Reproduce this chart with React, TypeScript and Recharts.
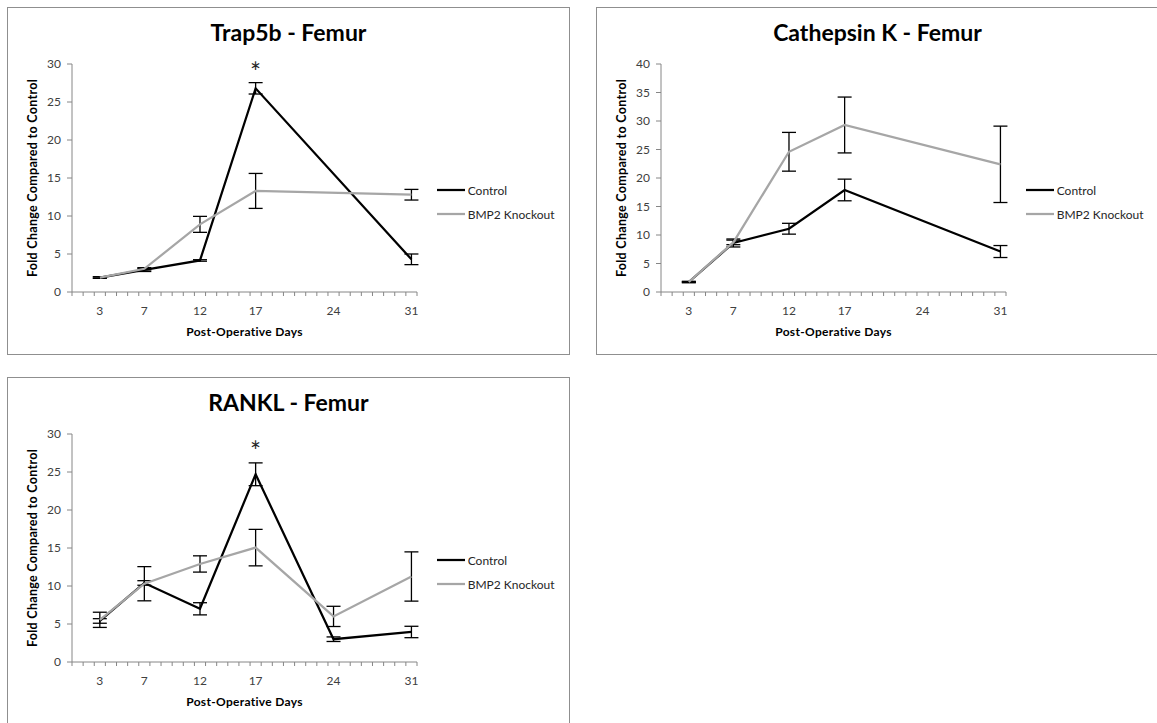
import { ErrorBar, Legend, Line, LineChart, ReferenceDot, XAxis, YAxis } from "recharts";

// Trap5b - Femur
const trapDays = [3, 7, 12, 17, 31];
const trapControl = [1.9, 2.9, 4.15, 26.8, 4.3];
const trapControlErr = [0.1, 0.2, 0.1, 0.75, 0.7];
const trapKnockout = [1.9, 3.05, 8.9, 13.3, 12.8];
const trapKnockoutErr = [0.1, 0.15, 1.05, 2.3, 0.7];
const trapStar = { day: 17, value: 29.6 };

// Cathepsin K - Femur
const cathDays = [3, 7, 12, 17, 31];
const cathControl = [1.75, 8.6, 11.1, 17.9, 7.1];
const cathControlErr = [0.1, 0.7, 0.95, 1.9, 1.05];
const cathKnockout = [1.75, 8.7, 24.6, 29.3, 22.4];
const cathKnockoutErr = [0.1, 0.4, 3.4, 4.9, 6.7];

// RANKL - Femur
const ranklDays = [3, 7, 12, 17, 24, 31];
const ranklControl = [5.4, 10.4, 7.0, 24.7, 3.0, 3.95];
const ranklControlErr = [0.3, 0.3, 0.8, 1.5, 0.3, 0.75];
const ranklKnockout = [5.55, 10.3, 12.9, 15.05, 6.0, 11.25];
const ranklKnockoutErr = [1.0, 2.25, 1.07, 2.4, 1.33, 3.24];
const ranklStar = { day: 17, value: 28.4 };

const dayLabels = [3, 7, 12, 17, 24, 31];
const dayGrid = Array.from({ length: 32 }, (_, i) => i + 0.5);
const xTicks = [...dayGrid, ...dayLabels].sort((a, b) => a - b);
const ticks30 = [0, 5, 10, 15, 20, 25, 30];
const ticks40 = [0, 5, 10, 15, 20, 25, 30, 35, 40];

const AXIS = "#868686";
const CONTROL = "#000000";
const KNOCKOUT = "#a6a6a6";
const FONT = "Lato";
const seriesOrder: Record<string, number> = { control: 0, knockout: 1 };

// half-day values get a small tick mark, whole days get their label
function DayTick({ x, y, payload }: any) {
  const v = payload.value;
  if (v % 1 !== 0) {
    return <line x1={x} x2={x} y1={y - 14} y2={y - 10} stroke={AXIS} />;
  }
  return (
    <text x={x} y={y} dy="0.71em" textAnchor="middle" fill="#404040" fontSize={12} fontFamily={FONT}>
      {v}
    </text>
  );
}

function LegendBox({ payload }: any) {
  return (
    <div style={{ fontFamily: FONT, fontSize: 12, color: "#262626" }}>
      {(payload ?? []).map((p: any) => (
        <div key={p.value} style={{ display: "flex", alignItems: "center", height: 23.6 }}>
          <svg width={28} height={4}>
            <line x1={0} x2={28} y1={2} y2={2} stroke={p.color} strokeWidth={2.25} />
          </svg>
          <span style={{ marginLeft: 3 }}>{p.value}</span>
        </div>
      ))}
    </div>
  );
}

interface PanelProps {
  title: string;
  left: number;
  top: number;
  days: number[];
  control: number[];
  controlErr: number[];
  knockout: number[];
  knockoutErr: number[];
  yTicks: number[];
  star?: { day: number; value: number };
}

function Panel({ title, left, top, days, control, controlErr, knockout, knockoutErr, yTicks, star }: PanelProps) {
  const rows = days.map((day, i) => ({
    day,
    control: control[i],
    controlErr: controlErr[i],
    knockout: knockout[i],
    knockoutErr: knockoutErr[i],
  }));

  return (
    <div
      style={{
        position: "absolute",
        left,
        top,
        width: 561,
        height: 346,
        border: "1px solid #8f8f8f",
        background: "#fff",
      }}
    >
      <LineChart width={561} height={346} data={rows} margin={{ top: 56, right: 152, bottom: 0, left: 4 }}>
        <XAxis
          dataKey="day"
          type="number"
          domain={[0.5, 31.5]}
          ticks={xTicks}
          interval={0}
          allowDataOverflow
          tick={<DayTick />}
          tickLine={false}
          tickSize={4}
          tickMargin={10}
          axisLine={{ stroke: AXIS }}
          height={62}
          label={{
            value: "Post-Operative Days",
            position: "insideBottom",
            offset: 18,
            fill: "#000",
            fontSize: 12,
            fontWeight: 700,
            fontFamily: FONT,
            letterSpacing: 0.3,
          }}
        />
        <YAxis
          type="number"
          domain={[0, yTicks[yTicks.length - 1]]}
          ticks={yTicks}
          width={60}
          tickSize={5}
          tickMargin={6}
          tickLine={{ stroke: AXIS }}
          axisLine={{ stroke: AXIS }}
          tick={{ fill: "#404040", fontSize: 12, fontFamily: FONT }}
          label={{
            value: "Fold Change Compared to Control",
            angle: -90,
            position: "center",
            dx: -9,
            fill: "#000",
            fontSize: 12.5,
            fontWeight: 700,
            fontFamily: FONT,
            letterSpacing: 0.3,
          }}
        />
        <Line
          dataKey="control"
          name="Control"
          type="linear"
          stroke={CONTROL}
          strokeWidth={2.25}
          dot={false}
          activeDot={false}
          isAnimationActive={false}
        >
          <ErrorBar dataKey="controlErr" direction="y" width={7} stroke="#000" strokeWidth={1.3} isAnimationActive={false} />
        </Line>
        <Line
          dataKey="knockout"
          name="BMP2 Knockout"
          type="linear"
          stroke={KNOCKOUT}
          strokeWidth={2.25}
          dot={false}
          activeDot={false}
          isAnimationActive={false}
        >
          <ErrorBar dataKey="knockoutErr" direction="y" width={7} stroke="#000" strokeWidth={1.3} isAnimationActive={false} />
        </Line>
        {star && (
          <ReferenceDot
            x={star.day}
            y={star.value}
            r={0}
            shape={(p: any) => (
              <text x={p.cx} y={p.cy + 15} textAnchor="middle" fontSize={26} fontFamily={FONT} fill="#262626">
                *
              </text>
            )}
          />
        )}
        <Legend
          layout="vertical"
          align="center"
          verticalAlign="middle"
          itemSorter={(item: any) => seriesOrder[item.dataKey] ?? 0}
          content={<LegendBox />}
          wrapperStyle={{ left: 428.7, top: 170.7, width: 130, height: 48 }}
        />
      </LineChart>
      <div
        style={{
          position: "absolute",
          left: 0,
          top: 13.2,
          width: "100%",
          textAlign: "center",
          fontFamily: FONT,
          fontWeight: 700,
          fontSize: 23,
          lineHeight: "23px",
          color: "#000",
          pointerEvents: "none",
        }}
      >
        {title}
      </div>
    </div>
  );
}

export default function App() {
  return (
    <div
      style={{
        position: "absolute",
        left: 0,
        top: 0,
        width: 1157,
        height: 723,
        overflow: "hidden",
        background: "#fff",
      }}
    >
      <Panel
        title="Trap5b - Femur"
        left={7}
        top={7}
        days={trapDays}
        control={trapControl}
        controlErr={trapControlErr}
        knockout={trapKnockout}
        knockoutErr={trapKnockoutErr}
        yTicks={ticks30}
        star={trapStar}
      />
      <Panel
        title="Cathepsin K - Femur"
        left={596}
        top={7}
        days={cathDays}
        control={cathControl}
        controlErr={cathControlErr}
        knockout={cathKnockout}
        knockoutErr={cathKnockoutErr}
        yTicks={ticks40}
      />
      <Panel
        title="RANKL - Femur"
        left={7}
        top={377}
        days={ranklDays}
        control={ranklControl}
        controlErr={ranklControlErr}
        knockout={ranklKnockout}
        knockoutErr={ranklKnockoutErr}
        yTicks={ticks30}
        star={ranklStar}
      />
    </div>
  );
}
